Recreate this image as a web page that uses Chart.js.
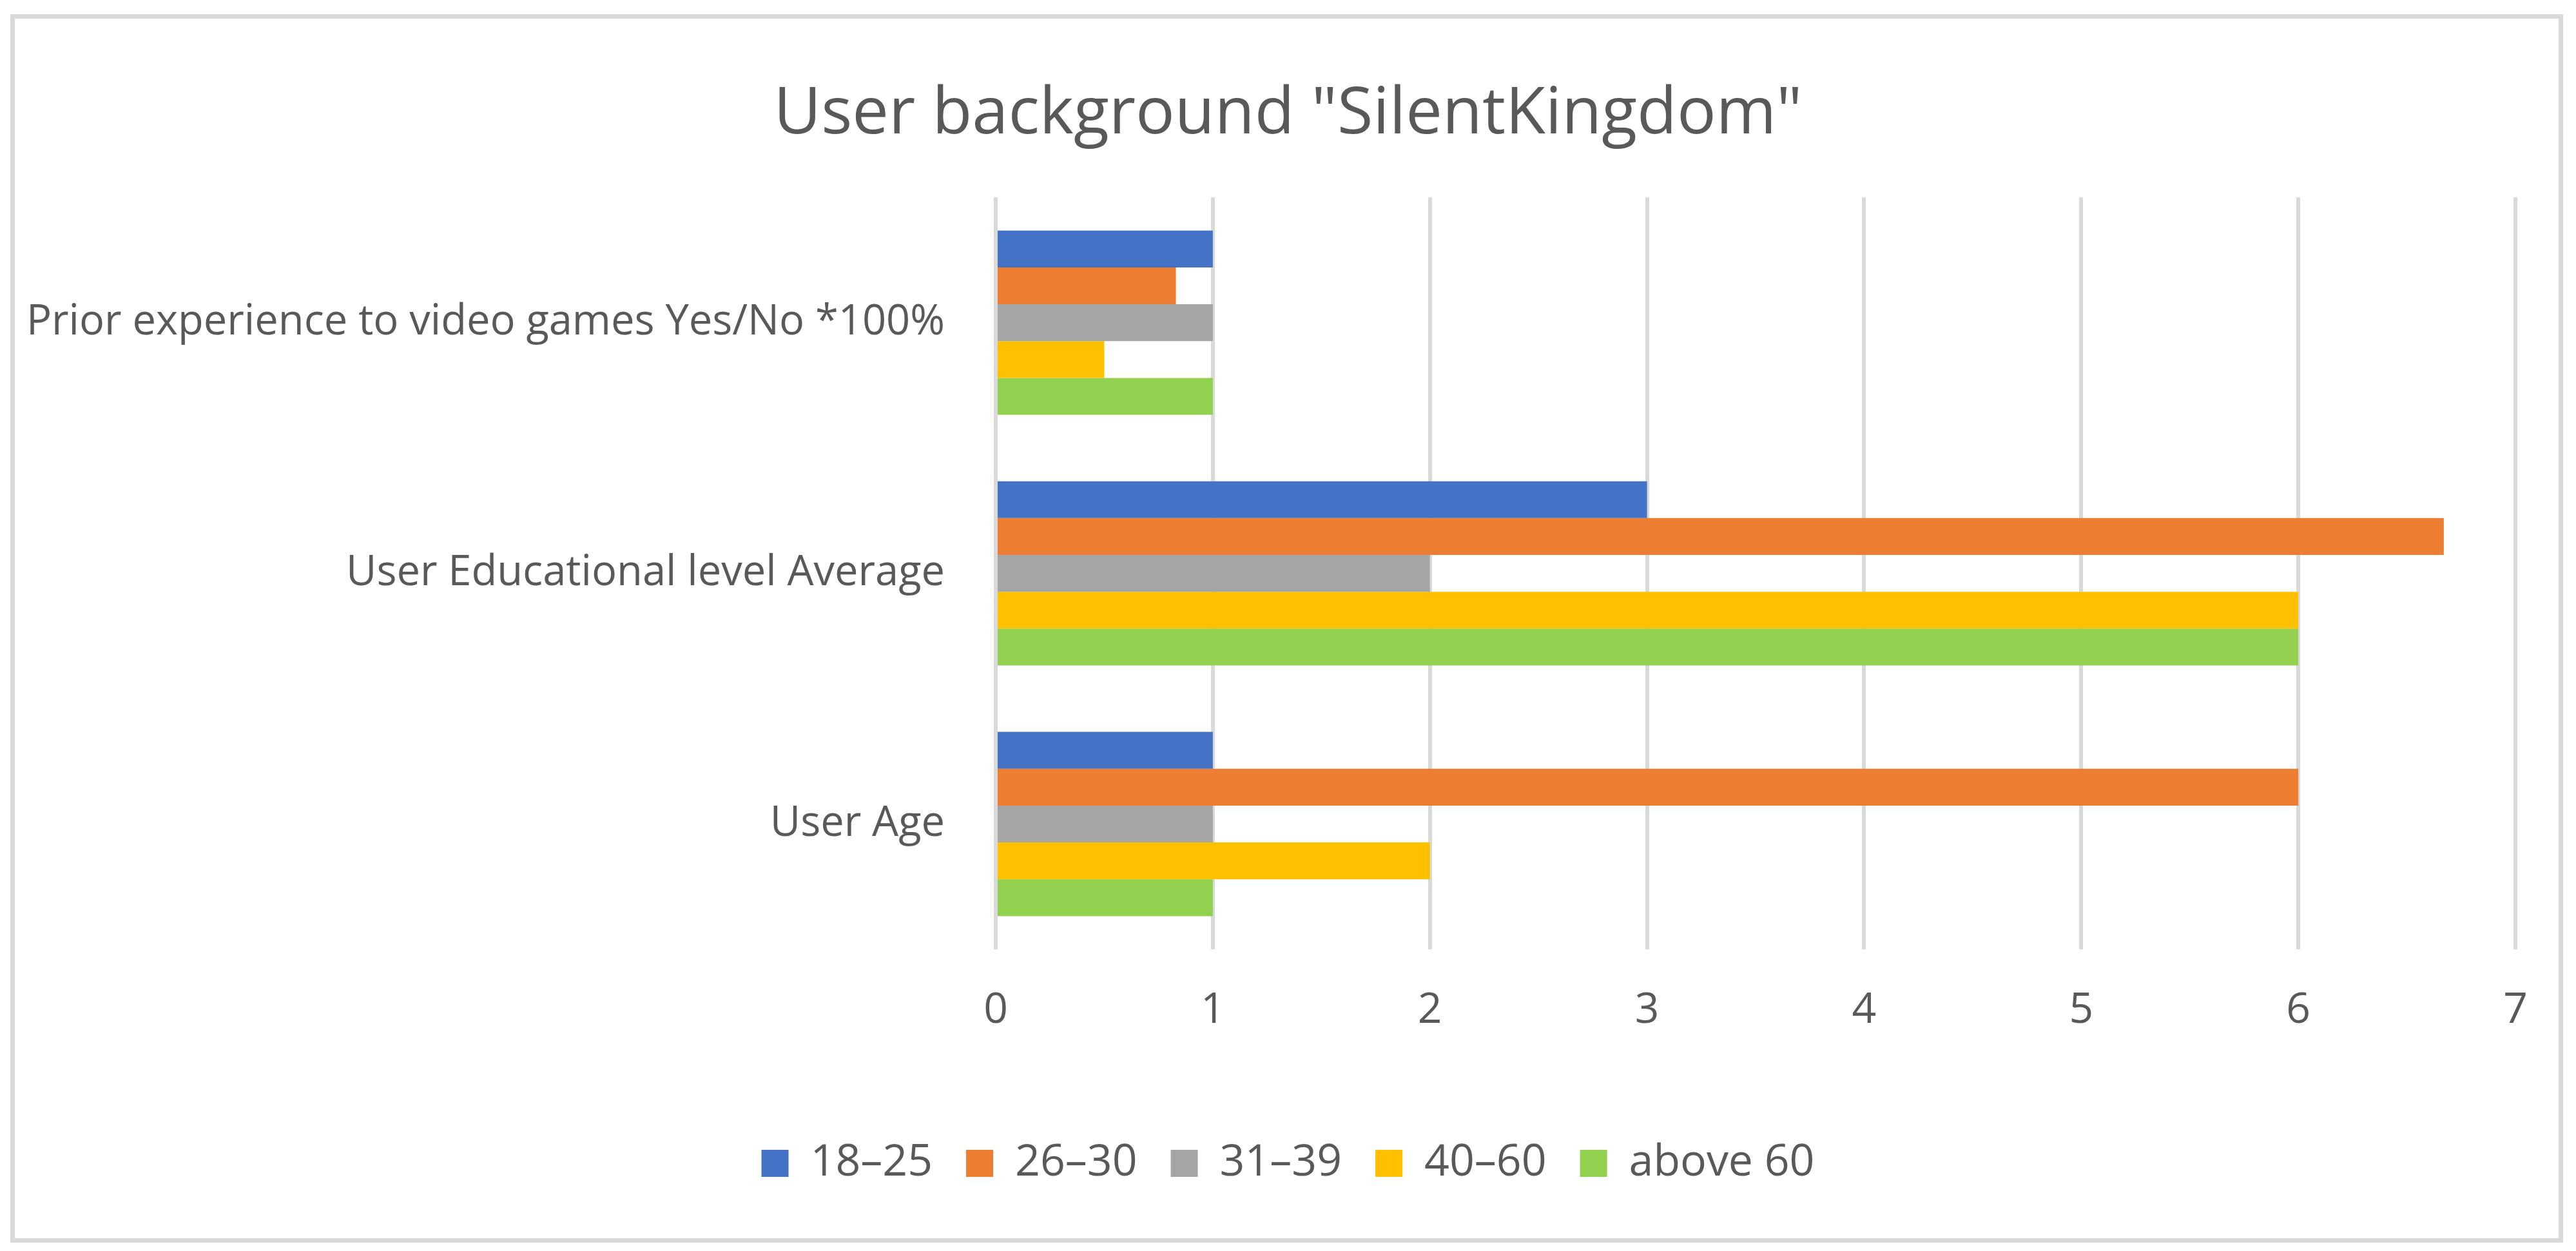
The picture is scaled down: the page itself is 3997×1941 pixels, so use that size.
<!DOCTYPE html>
<html>
<head>
<meta charset="utf-8">
<script src="https://cdn.jsdelivr.net/npm/chart.js@4.4.0/dist/chart.umd.min.js"></script>
<style>
    body { margin: 0; background: #ffffff; overflow: hidden; }
    #frame {
        position: absolute;
        left: 16px; top: 22px;
        width: 3961px; height: 1906px;
        box-sizing: border-box;
        border: 7px solid #d9d9d9;
    }
    #chart { position: absolute; left: 0; top: 0; }
</style>
</head>
<body>
<div id="frame"></div>
<canvas id="chart" width="3997" height="1941"></canvas>
<script>
// Données
const categories = [
    'Prior experience to video games Yes/No *100%',
    'User Educational level Average',
    'User Age'
];
const seriesLabels = ['18–25', '26–30', '31–39', '40–60', 'above 60'];
const age18to25 = [1, 3, 1];
const age26to30 = [0.83, 6.67, 6];
const age31to39 = [1, 2, 1];
const age40to60 = [0.5, 6, 2];
const above60 = [1, 6, 1];
const xTicks = [0, 1, 2, 3, 4, 5, 6, 7];

const seriesValues = [age18to25, age26to30, age31to39, age40to60, above60];
const colors = ['#4472c4', '#ed7d31', '#a5a5a5', '#ffc000', '#92d050'];

const textColor = '#595959';
const fontFamily = '"Open Sans", sans-serif';

const datasets = seriesLabels.map((label, i) => ({
    label: label,
    data: seriesValues[i],
    backgroundColor: colors[i],
    borderWidth: 0,
    barPercentage: 1,
    categoryPercentage: 0.735
}));

const ctx = document.getElementById('chart').getContext('2d');
new Chart(ctx, {
    type: 'bar',
    data: {
        labels: categories,
        datasets: datasets
    },
    options: {
        indexAxis: 'y',
        responsive: false,
        animation: false,
        layout: {
            padding: { left: 0, right: 0, top: 0, bottom: 92 }
        },
        plugins: {
            title: {
                display: true,
                text: 'User background "SilentKingdom"',
                color: textColor,
                font: { family: fontFamily, size: 101, weight: 'normal' },
                padding: { top: 118, bottom: 67 }
            },
            legend: {
                position: 'bottom',
                labels: {
                    boxWidth: 42,
                    boxHeight: 42,
                    padding: 52,
                    color: textColor,
                    font: { family: fontFamily, size: 68 }
                }
            },
            tooltip: { enabled: false }
        },
        scales: {
            x: {
                min: xTicks[0],
                max: xTicks[xTicks.length - 1],
                afterBuildTicks: function(scale) {
                    scale.ticks = xTicks.map(v => ({ value: v }));
                },
                afterFit: function(scale) {
                    scale.height = 246;
                },
                ticks: {
                    color: textColor,
                    padding: 56,
                    font: { family: fontFamily, size: 66 }
                },
                grid: {
                    color: '#d9d9d9',
                    lineWidth: 6,
                    drawTicks: false
                },
                border: { display: false }
            },
            y: {
                afterFit: function(scale) {
                    scale.width = 1545;
                },
                ticks: {
                    color: textColor,
                    padding: 71,
                    font: { family: fontFamily, size: 65 }
                },
                grid: { display: false },
                border: { display: false }
            },
            // axe vide à droite : sert seulement de marge, pour garder titre et légende centrés
            yMarge: {
                type: 'category',
                axis: 'y',
                position: 'right',
                afterFit: function(scale) {
                    scale.width = 94;
                },
                ticks: { display: false },
                grid: { display: false },
                border: { display: false }
            }
        }
    }
});
</script>
</body>
</html>
